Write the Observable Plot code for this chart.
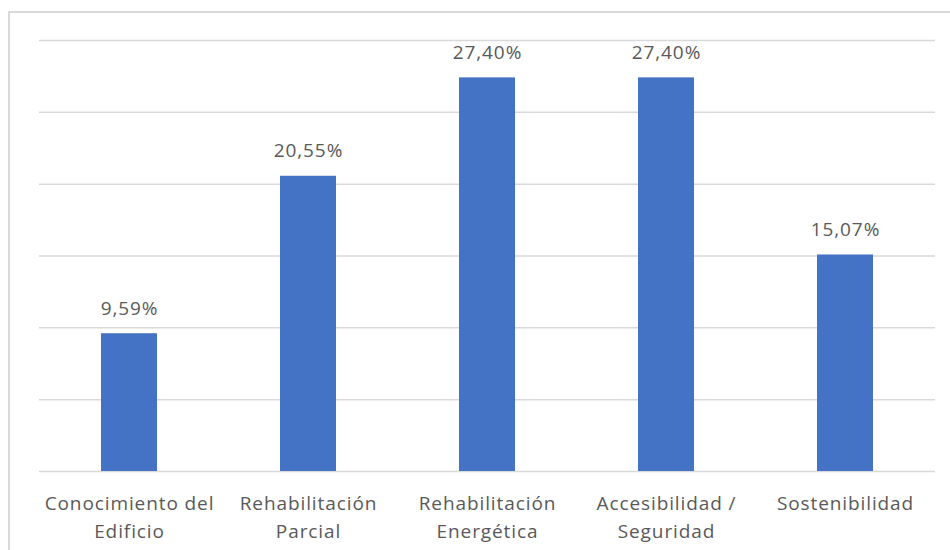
<!DOCTYPE html>
<html><head><meta charset="utf-8">
<script src="https://cdn.jsdelivr.net/npm/d3@7"></script>
<script src="https://cdn.jsdelivr.net/npm/@observablehq/plot@0.6"></script>
<style>
html,body{margin:0;padding:0;background:#fff;overflow:hidden}
#wrap{position:relative;width:950px;height:550px}
#frame{position:absolute;left:8px;top:11px;width:960px;height:560px;border:2px solid #d9d9d9;box-sizing:border-box}
#chart{position:absolute;left:0;top:0}
#chart text{letter-spacing:0.9px}
</style></head>
<body><div id="wrap"><div id="frame"></div><div id="chart"></div></div>
<script>
const categories = ["Conocimiento del\nEdificio", "Rehabilitación\nParcial", "Rehabilitación\nEnergética", "Accesibilidad /\nSeguridad", "Sostenibilidad"];
const values = [9.59, 20.55, 27.40, 27.40, 15.07];
const yTicks = [0, 5, 10, 15, 20, 25, 30];

const data = categories.map((c, i) => ({cat: c, val: values[i]}));
const fmt = v => v.toFixed(2).replace(".", ",") + "%";

const chart = Plot.plot({
  width: 950, height: 550,
  marginTop: 40, marginBottom: 79, marginLeft: 39, marginRight: 15,
  style: {fontFamily: "Open Sans, sans-serif", color: "#595959", background: "transparent"},
  x: {domain: categories, paddingInner: 0.6875, paddingOuter: 0.34375, align: 0.5, label: null},
  y: {domain: [0, 30], label: null, axis: null},
  marks: [
    Plot.gridY(yTicks, {stroke: "#d9d9d9", strokeOpacity: 1, strokeWidth: 1.5}),
    Plot.barY(data, {x: "cat", y: "val", fill: "#4472C4"}),
    Plot.text(data, {x: "cat", y: "val", text: d => fmt(d.val), dy: -25, lineAnchor: "middle", fontSize: 19, fill: "#595959"}),
    Plot.axisX({tickSize: 0, tickPadding: 18, fontSize: 19, lineHeight: 1.5, fill: "#595959"})
  ]
});
document.getElementById("chart").appendChild(chart);
</script></body></html>
